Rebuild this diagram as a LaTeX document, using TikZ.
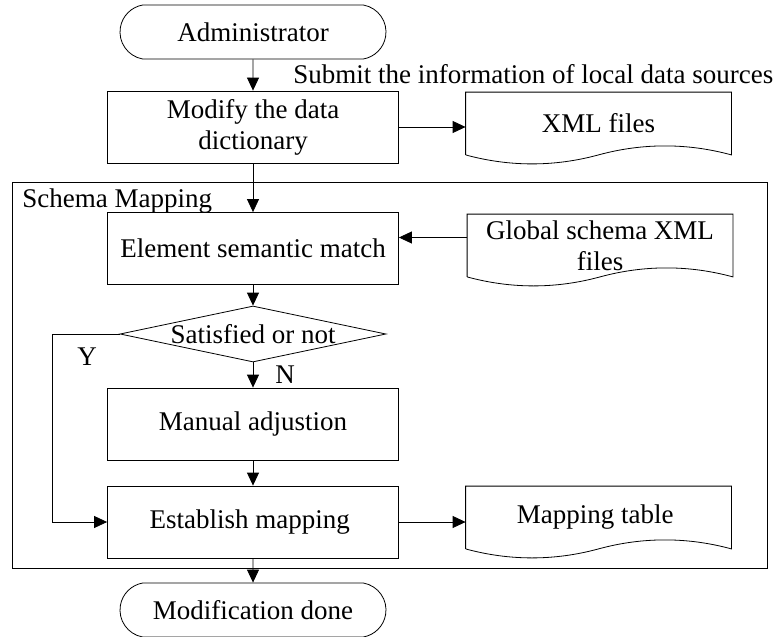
\documentclass[tikz,border=0pt]{standalone}
\usepackage{fontspec}
\setmainfont{Liberation Serif}
\usepackage{tikz}
\usetikzlibrary{arrows.meta}
\usetikzlibrary{calc}
\usetikzlibrary{shapes.geometric}
\usetikzlibrary{shapes.misc}
\tikzset{basic box/.style={draw,inner sep=0pt,align=center}}
\tikzset{flow/.style={draw,
                      line width=0.8pt,
                      -{Triangle[length=13pt,width=12pt]}}}

\begin{document}
\begin{tikzpicture}
  [
    x=1pt,y=-1pt,
    font=\fontsize{27}{31}\selectfont,
    line width=0.8pt,
    proc box/.style={basic box,
                     minimum width=291pt,
                     minimum height=72pt},
    term box/.style={basic box,
                     rounded rectangle,
                     rounded rectangle arc length=160,
                     minimum width=266pt,
                     minimum height=54pt},
    test box/.style={basic box,
                     diamond,
                     minimum width=266pt,
                     minimum height=56pt},
    doc box/.style={inner sep=0pt,
                    align=center,
                    minimum width=265pt,
                    minimum height=62pt},
    plain text/.style={inner sep=0pt},
  ]
    \useasboundingbox (0,0) rectangle (777,637);

    % frame
    \draw (12,182) rectangle (767,568);
    \node [plain text,anchor=base west] (title) at (22,207) {Schema Mapping};

    % terminals
    \node [term box] (admin) at (253,32) {Administrator};
    \node [term box] (done) at (253,610) {Modification done};

    % processes
    \foreach \n/\y/\t in
      {
        modify/127/{Modify the data\\dictionary},
        elem/248.5/{Element semantic match},
        manual/424/{Manual adjustion},
        est/522/{Establish mapping}
      }
    {
    \node [proc box] (\n) at (253,\y) {\t};
    }

    % decision
    \node [test box,label={[plain text]center:Satisfied or not}] (dia) at (253,334) {};

    % documents
    \foreach \n/\x/\y/\t in
      {
        xml/598.5/123.5/{XML files},
        glob/600/245.5/{Global schema XML\\files},
        table/598.5/517.5/{Mapping table}
      }
    {
    \node [doc box] (\n) at (\x,\y) {\t};
    \draw (\n.south west) -- (\n.north west) -- (\n.north east) -- (\n.south east)
      .. controls +(-44,-12) and +(44,-12) .. (\n.south)
      .. controls +(-44,12) and +(44,12) .. (\n.south west);
    }

    % edges
    \foreach \a/\b in {admin/modify,modify/elem,elem/dia,manual/est,est/done}
      \draw [flow] (\a) -- (\b);
    \draw [flow] (dia) -- node [plain text,anchor=west,xshift=22pt] (nlab) {N} (manual);
    \draw [flow] (modify.east) -- (modify.east -| xml.west);
    \draw [flow] ([yshift=8pt]glob.west) -- ([yshift=8pt]glob.west -| elem.east);
    \draw [flow] (est.east) -- (est.east -| table.west);

    % yes branch
    \coordinate (ybend) at (52,334);
    \draw [flow] (dia.west) -- (ybend)
      node [plain text,anchor=north west,xshift=25pt,yshift=-13pt] (ylab) {Y} |- (est);

    \node [plain text,anchor=base west] (submit) at (293,83) {Submit the information of local data sources};

  \end{tikzpicture}
\end{document}
